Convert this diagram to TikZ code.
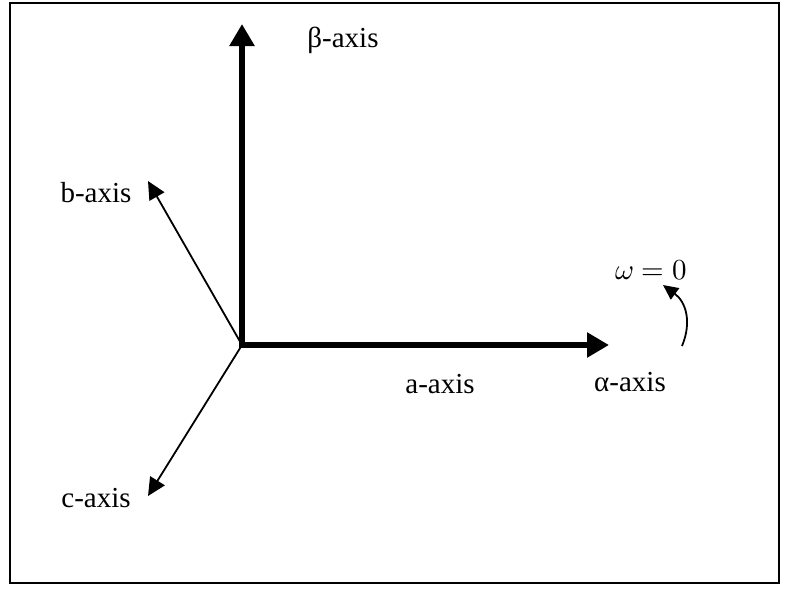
\documentclass[tikz,border=0pt]{standalone}
\usepackage{unicode-math}
\setmainfont{Liberation Serif}
\setmathfont{Latin Modern Math}
\usetikzlibrary{arrows.meta}
\newcommand{\Heavy}{6pt}
\newcommand{\Light}{1.8pt}
\tikzset{
  axislabel/.style={font=\fontsize{29}{34}\selectfont, inner sep=0pt},
  mainaxis/.style={line width=\Heavy, -{Triangle[length=22pt,width=24pt]}},
  phaseaxis/.style={line width=\Light, -{Triangle[length=18pt,width=17pt]}}
}

\begin{document}
\begin{tikzpicture}[x=1pt,y=-1pt, line join=miter]

  \useasboundingbox (0,0) rectangle (787,590);
  % ---- the frame ----------------------------------------------------------
  \draw[line width=1.6pt] (10,3) rectangle (779,583);

  % ---- the common origin and the arrow ends -------------------------------
  \coordinate (O) at (242,345);
  \coordinate (betaend) at (242,24);
  \coordinate (alphaend) at (609,345);
  \coordinate (bend) at (148,181);
  \coordinate (cend) at (148,496);

  % ---- the stationary frame, heavy ---------------------------------------
  \draw[mainaxis] ([yshift=3pt]O) -- (betaend);
  \draw[mainaxis] ([xshift=-3pt]O) -- (alphaend);

  % ---- the three phase axes, light ---------------------------------------
  \draw[phaseaxis] (O) -- (bend);
  \draw[phaseaxis] (O) -- (cend);

  % ---- labels -------------------------------------------------------------
  \node[axislabel] (betalbl) at (343,40) {β-axis};
  \node[axislabel] (alphalbl) at (630,382) {α-axis};
  \node[axislabel] (albl) at (440,384) {a-axis};
  \node[axislabel] (blbl) at (96,193) {b-axis};
  \node[axislabel] (clbl) at (96,498) {c-axis};
  \node[axislabel] (omega) at (651,270) {$\omega = 0$};

  % A small curved arrow under the speed, turning to the left.
  \coordinate (turnfoot) at (682,346);
  \draw[line width=1.8pt, -{Triangle[length=15pt,width=14pt]}]
    (turnfoot) .. controls (692,322) and (686,302) .. (663,285);

\end{tikzpicture}
\end{document}
